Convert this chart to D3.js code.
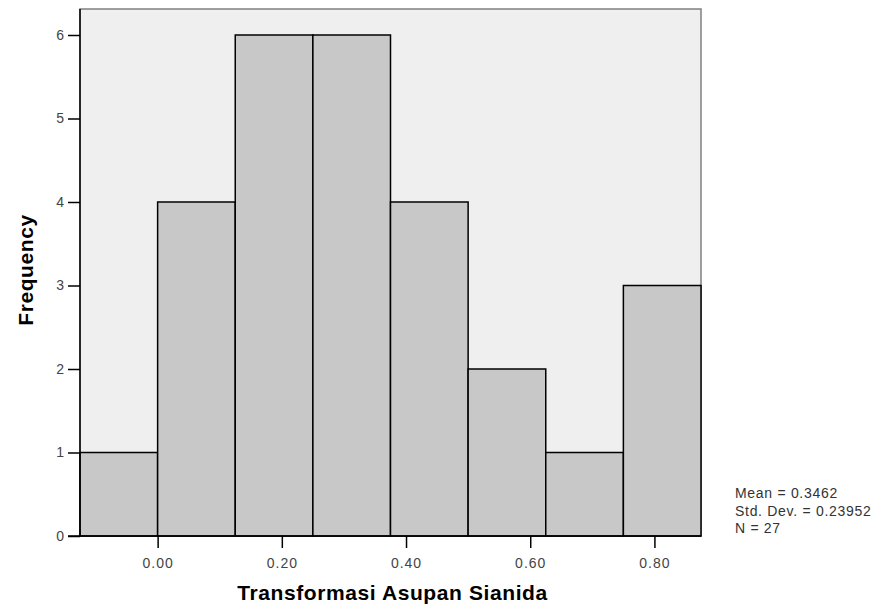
<!DOCTYPE html>
<html><head><meta charset="utf-8">
<script src="https://cdn.jsdelivr.net/npm/d3@7"></script>
<style>body{margin:0;background:#fff}text{font-family:"Liberation Sans",Arial,sans-serif}</style>
</head><body>
<svg id="c" width="882" height="609"></svg>
<script>
const binStarts = [-0.125, 0, 0.125, 0.25, 0.375, 0.5, 0.625, 0.75];
const binWidth = 0.125;
const counts = [1, 4, 6, 6, 4, 2, 1, 3];
const xTicks = [0, 0.2, 0.4, 0.6, 0.8];
const yTicks = [0, 1, 2, 3, 4, 5, 6];
const stats = ["Mean = 0.3462", "Std. Dev. = 0.23952", "N = 27"];
const xTitle = "Transformasi Asupan Sianida";
const yTitle = "Frequency";

const svg = d3.select("#c");
const L = 80, R = 701, T = 9, B = 536;
const x = d3.scaleLinear().domain([-0.125, 0.875]).range([L, R]);
const y = d3.scaleLinear().domain([0, 6]).range([B, 35]);

svg.append("rect").attr("x", L).attr("y", T).attr("width", R - L).attr("height", B - T)
  .attr("fill", "#efefef").attr("stroke", "#808080").attr("stroke-width", 1.5);

svg.selectAll("rect.bar").data(binStarts).join("rect").attr("class", "bar")
  .attr("x", d => x(d)).attr("width", d => x(d + binWidth) - x(d))
  .attr("y", (d, i) => y(counts[i])).attr("height", (d, i) => B - y(counts[i]))
  .attr("fill", "#c8c8c8").attr("stroke", "#000").attr("stroke-width", 1.5);

// left axis
const ya = d3.axisLeft(y).tickValues(yTicks).tickFormat(d3.format("d")).tickSize(12).tickPadding(4);
const gy = svg.append("g").attr("transform", `translate(${L},0)`).call(ya);
gy.select(".domain").attr("d", `M0,${T}V${B}`).attr("stroke", "#000").attr("stroke-width", 1.5);
gy.selectAll(".tick line").attr("stroke", "#000").attr("stroke-width", 1.5);
gy.selectAll(".tick text").attr("font-size", 14).attr("fill", "#444").attr("font-family", "Liberation Sans, Arial, sans-serif");

// bottom axis
const xa = d3.axisBottom(x).tickValues(xTicks).tickFormat(d3.format(".2f")).tickSize(12).tickPadding(10);
const gx = svg.append("g").attr("transform", `translate(0,${B})`).call(xa);
gx.select(".domain").attr("d", `M${L - 12},0H${R}`).attr("stroke", "#000").attr("stroke-width", 1.5);
gx.selectAll(".tick line").attr("stroke", "#000").attr("stroke-width", 1.5);
gx.selectAll(".tick text").attr("font-size", 14).attr("fill", "#444").attr("letter-spacing", "1px")
  .attr("font-family", "Liberation Sans, Arial, sans-serif");

svg.append("text").attr("x", (L + R) / 2 + 2).attr("y", 600).attr("text-anchor", "middle")
  .attr("font-size", 21).attr("font-weight", "bold").attr("letter-spacing", "0.6px").attr("fill", "#000").text(xTitle);
svg.append("text").attr("transform", "translate(33,270) rotate(-90)").attr("text-anchor", "middle")
  .attr("font-size", 21).attr("font-weight", "bold").attr("letter-spacing", "0.6px").attr("fill", "#000").text(yTitle);

svg.selectAll("text.stat").data(stats).join("text").attr("class", "stat")
  .attr("x", 735).attr("y", (d, i) => 498 + i * 17.5).attr("font-size", 14).attr("letter-spacing", "0.7px")
  .attr("fill", "#333").text(d => d);
</script>
</body></html>
